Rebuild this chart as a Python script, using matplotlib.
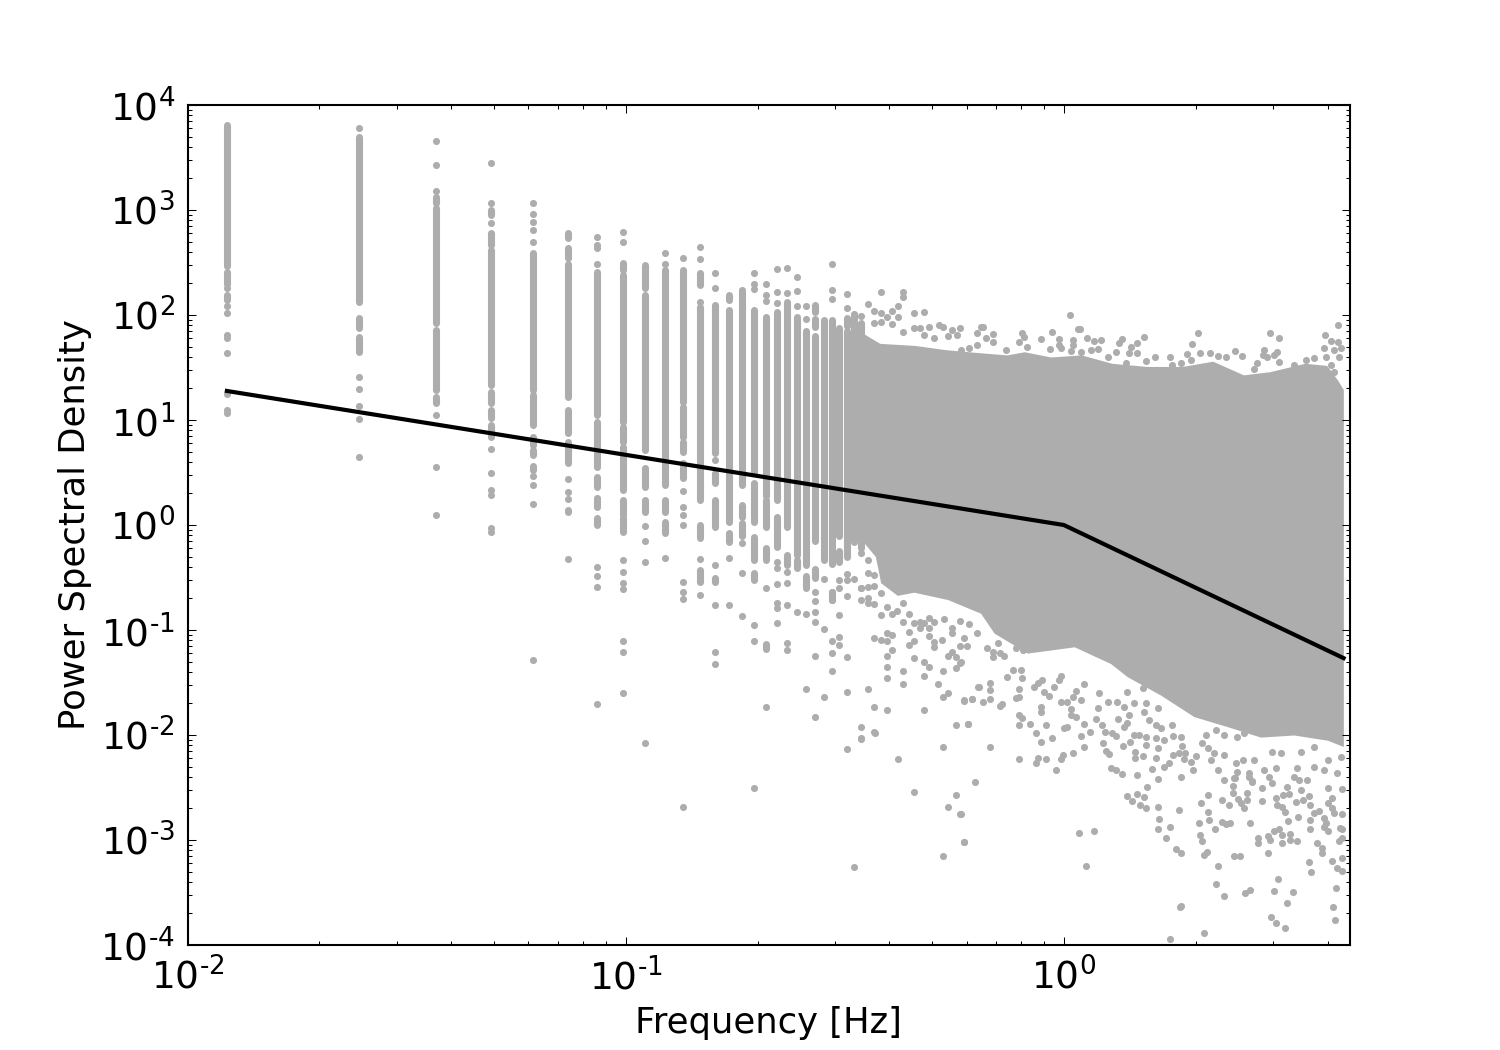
import numpy as np
import matplotlib
matplotlib.use("Agg")
import matplotlib.pyplot as plt
from matplotlib.ticker import FixedFormatter, FixedLocator, LogLocator, NullFormatter

GREY = "#adadad"
DOT = 3.4

# broken power-law model
model_freq = [0.0123, 1.0, 4.35]
model_psd = [18.9, 1.0, 0.054]

# the low Fourier frequencies are still resolved into separate columns
column_freq = [0.0123, 0.0246, 0.0369, 0.0492, 0.0615, 0.0738, 0.0861, 0.0984, 0.1107, 0.123,
               0.1353, 0.1476, 0.1599, 0.1722, 0.1845, 0.1968, 0.2091, 0.2214, 0.2337, 0.246,
               0.2583, 0.2706, 0.2829, 0.2952, 0.3075, 0.3198, 0.3321, 0.3444]

# log10(PSD) ranges that overlap into a solid bar, one list per column
column_runs = [
    [(2.47, 3.81), (2.30, 2.41), (2.14, 2.19)],
    [(2.12, 3.70), (1.88, 1.97), (1.65, 1.79)],
    [(3.07, 3.12), (1.92, 3.02), (1.29, 1.86), (1.16, 1.22)],
    [(2.95, 3.00), (2.67, 2.78), (1.33, 2.62), (1.16, 1.27), (1.02, 1.10), (0.84, 0.95)],
    [(1.29, 2.59), (0.95, 1.24), (0.76, 0.84), (0.67, 0.71), (0.52, 0.56)],
    [(2.73, 2.78), (2.54, 2.64), (1.22, 2.49), (0.88, 1.10), (0.59, 0.79), (0.12, 0.14)],
    [(1.05, 2.41), (0.74, 0.98), (0.55, 0.69), (0.36, 0.46), (0.17, 0.24), (0.00, 0.07)],
    [(2.43, 2.50), (0.98, 2.38), (0.79, 0.93), (0.33, 0.74), (0.10, 0.24), (-0.07, 0.07)],
    [(2.26, 2.48), (0.71, 2.19), (0.36, 0.54), (0.12, 0.24)],
    [(0.38, 2.43), (0.12, 0.24), (-0.08, 0.03)],
    [(1.17, 2.43), (0.84, 1.12), (0.70, 0.79), (0.45, 0.59)],
    [(2.29, 2.40), (0.24, 2.08), (-0.12, 0.00), (-0.54, -0.43)],
    [(0.69, 2.10), (0.40, 0.50), (-0.02, 0.24), (-0.54, -0.50)],
    [(2.14, 2.19), (0.03, 2.05), (-0.16, -0.08)],
    [(0.38, 2.22), (0.08, 0.19), (-0.10, 0.02)],
    [(0.50, 2.05), (0.03, 0.40), (-0.33, -0.11), (-0.52, -0.46)],
    [(0.28, 1.98), (-0.02, 0.24), (-0.33, -0.22), (-1.18, -1.13)],
    [(0.24, 2.03), (-0.21, 0.08)],
    [(1.95, 2.12), (-0.02, 1.95), (-0.38, -0.29)],
    [(-0.29, 1.98), (-0.41, -0.33)],
    [(-0.38, 1.85), (-0.60, -0.49)],
    [(1.89, 1.96), (2.03, 2.10), (-0.15, 1.80), (-0.50, -0.42)],
    [(-0.33, 1.95), (-0.12, -0.08)],
    [(-0.37, 1.95), (-0.71, -0.64)],
    [(-0.10, 1.88), (-0.35, -0.25)],
    [(-0.30, 1.85), (1.90, 1.97)],
    [(-0.16, 2.00)],
    [(-0.22, 1.92)],
]

# log10(PSD) of the separate dots in each column
column_dots = [
    [2.26, 2.09, 2.02, 1.81, 1.78, 1.64, 1.25, 1.10, 1.07],
    [3.78, 1.41, 1.30, 1.13, 1.01, 0.65],
    [3.66, 3.43, 3.18, 1.05, 0.55, 0.10],
    [3.45, 3.07, 2.88, 0.72, 0.50, 0.33, 0.29, -0.03, -0.07],
    [3.07, 2.96, 2.89, 2.81, 2.70, 0.47, 0.38, 0.20, -1.29],
    [0.44, 0.31, 0.25, -0.32],
    [2.74, 2.67, 2.64, 2.49, 0.26, -0.40, -0.49, -0.59, -1.70],
    [2.79, 2.70, -0.33, -0.45, -0.55, -0.61, -1.10, -1.21, -1.60],
    [-0.01, -0.15, -0.35, -2.08],
    [2.59, 2.49, -0.31],
    [2.54, 0.32, 0.17, 0.10, 0.00, -0.54, -0.64, -0.70, -2.69],
    [2.65, 2.53, 2.12, -0.32, -0.67],
    [2.40, 2.26, 0.62, -0.38, -0.76, -1.21, -1.32],
    [-0.31, -0.76],
    [2.24, -0.17, -0.46, -0.87],
    [2.40, 2.30, 2.25, -0.95, -1.10, -2.50],
    [2.30, 2.19, 2.13, -0.60, -1.73],
    [2.44, 2.22, 2.11, -0.35, -0.41, -0.56, -0.74, -0.79, -0.93],
    [2.45, 2.21, -0.45, -0.55, -0.76, -1.12, -1.19],
    [2.36, 2.23, 2.09, -0.83],
    [2.09, 1.96, -0.85, -1.56],
    [-0.64, -0.72, -0.83, -0.92, -1.25, -1.83],
    [-0.51, -0.99, -1.64],
    [2.49, 2.24, 2.15, -0.64, -0.71, -1.10, -1.22, -1.39],
    [-0.52, -0.60, -0.86, -1.07, -1.14],
    [2.20, 2.07, -0.47, -0.52, -0.68, -1.26, -1.59, -2.13],
    [2.01, -0.51],
    [1.99, -0.60],
]

# outline of the solid cloud at higher frequency, log10 values
cloud_top_logf = [-0.46, -0.42, -0.34, -0.27, -0.19, -0.13, -0.09, -0.03, 0.04, 0.11,
                  0.19, 0.27, 0.34, 0.41, 0.47, 0.55, 0.60, 0.625, 0.638]
cloud_top_logp = [1.83, 1.73, 1.71, 1.67, 1.64, 1.62, 1.65, 1.60, 1.62, 1.54,
                  1.51, 1.51, 1.56, 1.43, 1.46, 1.54, 1.52, 1.38, 1.29]
cloud_low_logf = [-0.46, -0.43, -0.418, -0.38, -0.342, -0.265, -0.19, -0.159, -0.083, 0.024,
                  0.107, 0.145, 0.221, 0.297, 0.373, 0.449, 0.525, 0.602, 0.638]
cloud_low_logp = [-0.15, -0.30, -0.55, -0.67, -0.64, -0.71, -0.84, -1.03, -1.22, -1.16,
                  -1.32, -1.445, -1.62, -1.825, -1.92, -2.02, -2.00, -2.05, -2.11]

# dots poking out above the cloud, (log10 f, log10 PSD)
dots_above = [
    (-0.446, 2.102), (-0.433, 2.041), (-0.418, 2.222), (-0.418, 2.022), (-0.404, 1.984),
    (-0.391, 2.041), (-0.378, 2.089), (-0.366, 2.216), (-0.366, 2.175), (-0.378, 1.984),
    (-0.341, 2.016), (-0.318, 2.025), (-0.342, 1.879), (-0.329, 1.873), (-0.307, 1.883),
    (-0.284, 1.905), (-0.275, 1.889), (-0.256, 1.857), (-0.237, 1.873), (-0.199, 1.832),
    (-0.189, 1.889), (-0.391, 1.911), (-0.433, 1.921), (-0.418, 1.937), (-0.366, 1.841),
    (-0.319, 1.810), (-0.296, 1.778), (-0.265, 1.800), (-0.243, 1.810), (-0.216, 1.683),
    (-0.197, 1.714), (-0.235, 1.667), (0.015, 1.997), (0.032, 1.870), (0.036, 1.870),
    (-0.185, 1.889), (-0.178, 1.778), (-0.161, 1.816), (-0.161, 1.746), (-0.096, 1.825),
    (-0.090, 1.794), (-0.102, 1.746), (-0.052, 1.771), (-0.028, 1.835), (-0.010, 1.771),
    (-0.010, 1.714), (-0.006, 1.683), (0.020, 1.762), (0.020, 1.714), (0.054, 1.778),
    (0.070, 1.756), (0.086, 1.762), (0.077, 1.676), (0.133, 1.768), (0.127, 1.730),
    (0.119, 1.644), (0.184, 1.794), (0.166, 1.730), (0.153, 1.698), (0.149, 1.641),
    (0.168, 1.635), (0.306, 1.829), (0.292, 1.721), (0.471, 1.825), (0.492, 1.778),
    (0.456, 1.667), (0.454, 1.619), (0.486, 1.651), (0.480, 1.619), (0.597, 1.806),
    (0.610, 1.756), (0.626, 1.905), (0.625, 1.740), (0.632, 1.683), (0.617, 1.667),
    (0.595, 1.689), (0.598, 1.603), (0.627, 1.603), (0.243, 1.603), (0.209, 1.597),
    (0.282, 1.629), (0.311, 1.635), (0.290, 1.571), (0.334, 1.635), (0.351, 1.610),
    (0.370, 1.603), (0.390, 1.654), (0.406, 1.613), (-0.031, 1.673), (-0.083, 1.698),
    (0.016, 1.660), (0.039, 1.651), (0.062, 1.667), (-0.132, 1.667), (0.102, 1.597),
    (0.142, 1.540), (0.187, 1.562), (0.463, 1.597), (0.492, 1.549), (0.442, 1.540),
    (0.435, 1.486), (0.572, 1.587), (0.552, 1.571), (0.526, 1.524), (0.610, 1.524),
    (0.617, 1.460), (0.248, 1.524), (0.267, 1.540),
]

# dots just under the cloud, below about 1 Hz
dots_below_low = [
    (-0.462, -0.270), (-0.446, -0.333), (-0.446, -0.460), (-0.433, -0.476), (-0.462, -0.603),
    (-0.446, -0.594), (-0.433, -0.578), (-0.462, -0.714), (-0.446, -0.699), (-0.446, -0.746),
    (-0.433, -0.752), (-0.418, -0.365), (-0.418, -0.651), (-0.418, -0.857), (-0.404, -0.778),
    (-0.391, -0.851), (-0.380, -0.816), (-0.366, -0.746), (-0.366, -0.921), (-0.353, -0.848),
    (-0.342, -0.937), (-0.329, -0.984), (-0.329, -0.921), (-0.319, -0.937), (-0.307, -0.984),
    (-0.307, -0.889), (-0.296, -0.921), (-0.273, -0.898), (-0.256, -0.984), (-0.237, -0.911),
    (-0.216, -0.943), (-0.197, -1.032), (-0.353, -1.022), (-0.342, -1.102), (-0.353, -1.143),
    (-0.307, -1.057), (-0.296, -1.111), (-0.296, -1.159), (-0.277, -1.095), (-0.256, -1.032),
    (-0.227, -1.079), (-0.220, -1.149), (-0.237, -1.152), (-0.433, -1.079), (-0.418, -1.095),
    (-0.404, -1.032), (-0.404, -1.102), (-0.391, -1.048), (-0.391, -1.190), (-0.404, -1.248),
    (-0.342, -1.264), (-0.404, -1.349), (-0.404, -1.460), (-0.366, -1.391), (-0.366, -1.518),
    (-0.319, -1.302), (-0.307, -1.352), (-0.319, -1.438), (-0.275, -1.387), (-0.265, -1.245),
    (-0.256, -1.206), (-0.246, -1.254), (-0.237, -1.311), (-0.246, -1.365), (-0.286, -1.511),
    (-0.265, -1.597), (-0.275, -1.641), (-0.227, -1.670), (-0.210, -1.657), (-0.195, -1.540),
    (-0.318, -1.762), (-0.404, -1.759), (-0.433, -1.737), (-0.446, -1.565), (-0.462, -1.921),
    (-0.433, -1.975), (-0.462, -2.032), (-0.246, -1.908), (-0.219, -1.898), (-0.432, -1.981),
    (-0.462, -2.041), (-0.378, -2.232), (-0.275, -2.117), (-0.341, -2.546), (-0.247, -2.571),
    (-0.265, -2.689), (-0.237, -2.752), (-0.227, -3.019), (-0.275, -3.149), (-0.478, -3.260),
    (-0.235, -1.308), (-0.218, -1.899), (-0.193, -1.540), (-0.169, -1.508), (-0.169, -1.572),
    (-0.227, -1.673), (-0.210, -1.657), (-0.185, -1.683), (-0.169, -1.661), (-0.169, -2.118),
    (-0.145, -1.724), (-0.140, -1.705), (-0.176, -1.175), (-0.161, -1.207), (-0.161, -1.254),
    (-0.145, -1.222), (-0.136, -1.248), (-0.151, -1.127), (-0.102, -1.127), (-0.110, -1.175),
    (-0.094, -1.191), (-0.129, -1.451), (-0.117, -1.381), (-0.098, -1.381), (-0.096, -1.461),
    (-0.102, -1.562), (-0.102, -1.635), (-0.110, -1.651), (-0.069, -1.540), (-0.059, -1.508),
    (-0.050, -1.476), (-0.046, -1.588), (-0.033, -1.626), (-0.022, -1.540), (-0.011, -1.476),
    (-0.007, -1.438), (-0.052, -1.730), (-0.052, -1.778), (-0.102, -1.810), (-0.096, -1.841),
    (-0.102, -1.905), (-0.077, -1.899), (-0.040, -1.902), (-0.064, -1.978), (-0.052, -2.067),
    (-0.028, -2.029), (-0.102, -2.232), (-0.064, -2.270), (-0.058, -2.222), (-0.040, -2.229),
    (-0.007, -2.229), (-0.001, -2.191), (-0.017, -2.330), (-0.007, -1.683), (-0.202, -2.450),
    (-0.235, -2.752), (-0.227, -3.019),
]

# dots under the cloud above 1 Hz
dots_below_high = [
    (0.001, -1.937), (0.007, -1.927), (0.045, -1.895), (0.040, -2.007), (0.059, -1.975),
    (0.045, -2.115), (0.021, -2.175), (0.107, -2.311), (0.119, -2.333), (0.008, -1.683),
    (0.020, -1.641), (0.027, -1.578), (0.039, -1.667), (0.045, -1.518), (0.016, -1.756),
    (0.016, -1.810), (0.027, -1.826), (0.077, -1.746), (0.073, -1.845), (0.124, -1.851),
    (0.138, -1.921), (0.145, -1.889), (0.149, -1.810), (0.088, -1.905), (0.094, -1.968),
    (0.111, -1.984), (0.119, -2.010), (0.090, -2.073), (0.096, -2.149), (0.103, -2.181),
    (0.136, -2.102), (0.151, -2.070), (0.160, -2.000), (0.172, -2.000), (0.187, -2.095),
    (0.162, -2.159), (0.162, -2.222), (0.181, -2.200), (0.214, -2.127), (0.211, -2.222),
    (0.202, -2.327), (0.229, -2.302), (0.240, -2.264), (0.267, -2.397), (0.249, -2.190),
    (0.263, -2.175), (0.276, -2.175), (0.275, -2.232), (0.290, -2.254), (0.301, -2.197),
    (0.295, -2.333), (0.269, -2.105), (0.267, -2.016), (0.250, -2.007), (0.229, -2.048),
    (0.210, -2.032), (0.187, -2.016), (0.195, -1.857), (0.210, -1.905), (0.221, -1.937),
    (0.248, -1.905), (0.183, -1.778), (0.187, -1.699), (0.160, -1.699), (0.138, -1.737),
    (0.122, -1.683), (0.100, -1.683), (0.081, -1.603), (0.145, -1.588), (0.180, -1.556),
    (0.214, -1.746), (0.316, -2.073), (0.328, -2.127), (0.343, -2.175), (0.366, -2.190),
    (0.335, -2.238), (0.351, -2.333), (0.392, -2.270), (0.408, -2.238), (0.396, -2.349),
    (0.423, -2.365), (0.430, -2.435), (0.389, -2.413), (0.324, -2.000), (0.347, -1.953),
    (0.366, -2.000), (0.396, -2.016), (0.411, -1.984), (0.434, -2.238), (0.457, -2.333),
    (0.484, -2.318), (0.468, -2.397), (0.495, -2.175), (0.476, -2.159), (0.525, -2.397),
    (0.556, -2.429), (0.624, -2.365), (0.541, -2.159), (0.571, -2.111), (0.602, -2.238),
    (0.632, -2.206), (0.533, -2.318), (0.571, -2.302), (0.594, -2.333),
]

# sparse dots toward the bottom right corner
dots_far = [
    (0.035, -2.936), (0.069, -2.914), (0.050, -3.244), (0.144, -2.581), (0.155, -2.628),
    (0.167, -2.562), (0.184, -2.587), (0.189, -2.498), (0.173, -2.666), (0.188, -2.698),
    (0.214, -2.689), (0.218, -2.797), (0.214, -2.895), (0.243, -2.879), (0.233, -2.984),
    (0.263, -2.717), (0.256, -3.085), (0.267, -3.123), (0.265, -3.641), (0.267, -3.628),
    (0.243, -3.946), (0.319, -3.885), (0.313, -2.647), (0.328, -2.571), (0.328, -2.733),
    (0.332, -2.812), (0.308, -2.835), (0.346, -2.892), (0.360, -2.825), (0.370, -2.847),
    (0.379, -2.835), (0.360, -2.622), (0.377, -2.666), (0.311, -2.955), (0.316, -3.009),
    (0.326, -3.111), (0.319, -3.146), (0.353, -3.247), (0.348, -3.419), (0.365, -3.533),
    (0.389, -3.149), (0.402, -3.152), (0.414, -3.508), (0.425, -3.479), (0.424, -2.841),
    (0.411, -2.698), (0.419, -2.619), (0.398, -2.612), (0.405, -2.650), (0.386, -2.555),
    (0.417, -2.555), (0.386, -2.482), (0.443, -2.984), (0.443, -3.025), (0.467, -3.127),
    (0.465, -2.958), (0.471, -3.003), (0.480, -2.911), (0.491, -2.898), (0.497, -2.955),
    (0.499, -3.025), (0.516, -2.946), (0.516, -3.000), (0.533, -3.009), (0.489, -3.374),
    (0.480, -3.485), (0.522, -3.498), (0.509, -3.600), (0.473, -3.733), (0.485, -3.790),
    (0.504, -3.841), (0.452, -2.628), (0.453, -2.508), (0.484, -2.603), (0.487, -2.666),
    (0.499, -2.682), (0.506, -2.730), (0.512, -2.816), (0.535, -2.778), (0.500, -2.571),
    (0.514, -2.562), (0.529, -2.641), (0.545, -2.619), (0.541, -2.523), (0.560, -2.581),
    (0.562, -2.666), (0.563, -2.809), (0.571, -2.746), (0.582, -2.723), (0.562, -2.898),
    (0.594, -2.793), (0.598, -2.841), (0.604, -2.914), (0.595, -2.873), (0.602, -2.650),
    (0.613, -2.603), (0.613, -2.698), (0.636, -2.755), (0.617, -2.746), (0.630, -2.889),
    (0.636, -2.898), (0.636, -2.984), (0.627, -3.009), (0.579, -3.032), (0.590, -3.079),
    (0.589, -3.127), (0.560, -3.206), (0.564, -3.308), (0.611, -3.203), (0.623, -3.270),
    (0.636, -3.174), (0.636, -3.292), (0.622, -3.454), (0.615, -3.641), (0.618, -3.765),
    (0.132, -2.374), (0.167, -2.384), (0.215, -2.419), (0.365, -2.425), (0.390, -2.406),
    (0.423, -2.396), (0.430, -2.444), (0.476, -2.460), (0.509, -2.492), (0.537, -2.428),
    (0.602, -2.508), (0.634, -2.517),
]

x_ticks = [0.01, 0.1, 1.0]
x_labels = ["-2", "-1", "0"]
y_ticks = [1e-4, 1e-3, 1e-2, 1e-1, 1e0, 1e1, 1e2, 1e3, 1e4]
y_labels = ["-4", "-3", "-2", "-1", "0", "1", "2", "3", "4"]


def power_label(exp):
    return r"$\mathdefault{10^{\text{" + exp + r"}}}$"


fig = plt.figure(figsize=(10, 7), dpi=150)
ax = fig.add_axes([0.125, 0.1, 0.775, 0.8])
ax.set_xscale("log")
ax.set_yscale("log")

cloud_f = np.array(sorted(set(cloud_top_logf + cloud_low_logf)))
top = np.interp(cloud_f, cloud_top_logf, cloud_top_logp)
low = np.interp(cloud_f, cloud_low_logf, cloud_low_logp)
ax.fill_between(10**cloud_f, 10**low, 10**top, color=GREY, lw=0)

for f, runs, dots in zip(column_freq, column_runs, column_dots):
    for lo, hi in runs:
        ax.plot([f, f], [10**lo, 10**hi], color=GREY, lw=DOT, solid_capstyle="round")
    ax.plot([f] * len(dots), 10**np.array(dots), "o", color=GREY, ms=DOT, mew=0)

for group in (dots_above, dots_below_low, dots_below_high, dots_far):
    pts = np.array(group)
    ax.plot(10**pts[:, 0], 10**pts[:, 1], "o", color=GREY, ms=DOT, mew=0)

ax.plot(model_freq, model_psd, color="black", lw=2)

ax.set_xlim(0.01, 4.5)
ax.set_ylim(1e-4, 1e4)

ax.xaxis.set_major_locator(FixedLocator(x_ticks))
ax.xaxis.set_major_formatter(FixedFormatter([power_label(e) for e in x_labels]))
ax.yaxis.set_major_locator(FixedLocator(y_ticks))
ax.yaxis.set_major_formatter(FixedFormatter([power_label(e) for e in y_labels]))
for axis in (ax.xaxis, ax.yaxis):
    axis.set_minor_locator(LogLocator(base=10, subs=range(2, 10), numticks=20))
    axis.set_minor_formatter(NullFormatter())

ax.tick_params(which="major", direction="in", top=True, right=True, length=4, width=0.5,
               labelsize=18, pad=6)
ax.tick_params(which="minor", direction="in", top=True, right=True, length=2, width=0.5)
for spine in ax.spines.values():
    spine.set_linewidth(1)

ax.set_xlabel("Frequency [Hz]", fontsize=17)
ax.set_ylabel("Power Spectral Density", fontsize=17)

fig.savefig("out.png", dpi=150)
